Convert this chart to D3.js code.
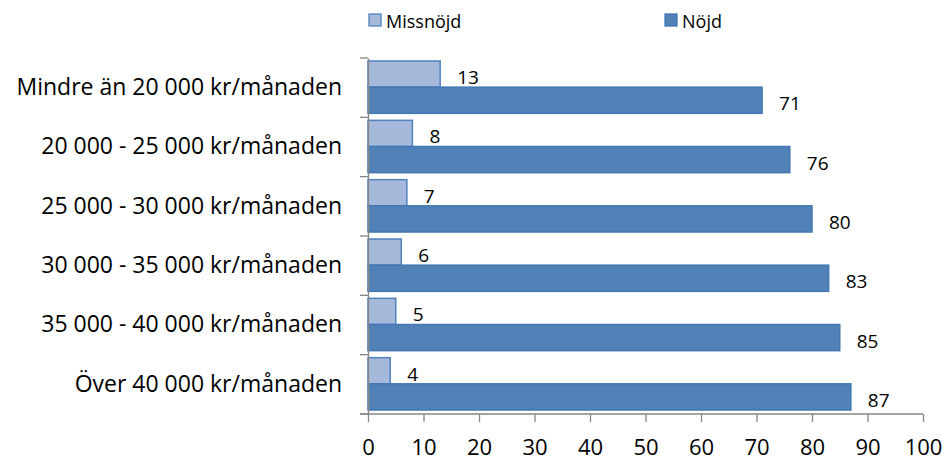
<!DOCTYPE html>
<head>
	<meta charset="utf-8">
	<script src="https://d3js.org/d3.v7.min.js"></script>
	<style>
		body { margin: 0; background: #fff; }
		text { font-family: "Open Sans", "Noto Sans", sans-serif; fill: #000; }
	</style>
</head>
<body>
	<script type="text/javascript">

		var w = 945;
		var h = 461;

		var categories = [
			"Mindre än 20 000 kr/månaden",
			"20 000 - 25 000 kr/månaden",
			"25 000 - 30 000 kr/månaden",
			"30 000 - 35 000 kr/månaden",
			"35 000 - 40 000 kr/månaden",
			"Över 40 000 kr/månaden"
		];
		var seriesNames = ["Missnöjd", "Nöjd"];
		var missnojd = [13, 8, 7, 6, 5, 4];
		var nojd = [71, 76, 80, 83, 85, 87];
		var xTicks = [0, 10, 20, 30, 40, 50, 60, 70, 80, 90, 100];

		var fills = ["#a7b9db", "#5082b8"];
		var strokes = ["#4f81bd", "#4277b3"];

		var svg = d3.select("body")
				.append("svg")
				.attr("width", w)
				.attr("height", h);

		var xScale = d3.scaleLinear()
					.domain([0, 100])
					.range([368, 923]);

		var yScale = d3.scaleBand()
					.domain(categories)
					.range([58, 414])
					.padding(0);

		var inner = d3.scaleBand()
					.domain(seriesNames)
					.range([3, yScale.bandwidth() - 4])
					.padding(0);

		var rows = categories.map(function(c, i) {
			return {cat: c, values: [missnojd[i], nojd[i]]};
		});

		var groups = svg.selectAll("g.row")
			.data(rows)
			.enter()
			.append("g")
			.attr("class", "row")
			.attr("transform", function(d) { return "translate(0," + yScale(d.cat) + ")"; });

		groups.selectAll("rect")
			.data(function(d) { return d.values.map(function(v, j) { return {v: v, s: seriesNames[j], j: j}; }); })
			.enter()
			.append("rect")
			.attr("x", xScale(0))
			.attr("y", function(d) { return inner(d.s); })
			.attr("width", function(d) { return xScale(d.v) - xScale(0); })
			.attr("height", inner.bandwidth())
			.attr("fill", function(d) { return fills[d.j]; })
			.attr("stroke", function(d) { return strokes[d.j]; })
			.attr("stroke-width", 1.5);

		groups.selectAll("text.val")
			.data(function(d) { return d.values.map(function(v, j) { return {v: v, s: seriesNames[j]}; }); })
			.enter()
			.append("text")
			.attr("class", "val")
			.attr("x", function(d) { return xScale(d.v) + 17; })
			.attr("y", function(d) { return inner(d.s) + inner.bandwidth() / 2 + 10; })
			.attr("font-size", 19)
			.text(function(d) { return d.v; });

		// y axis
		var yAxis = d3.axisLeft(yScale).tickSize(0).tickPadding(26);
		var gy = svg.append("g")
			.attr("transform", "translate(" + xScale(0) + ",0)")
			.call(yAxis);
		gy.select(".domain").attr("stroke", "#868686").attr("stroke-width", 1.3);
		gy.selectAll("text").attr("font-size", 23).attr("fill", "#000");

		// category separators
		svg.selectAll("line.sep")
			.data(d3.range(categories.length + 1))
			.enter()
			.append("line")
			.attr("class", "sep")
			.attr("x1", xScale(0) - 8)
			.attr("x2", xScale(0))
			.attr("y1", function(i) { return 58 + i * yScale.step(); })
			.attr("y2", function(i) { return 58 + i * yScale.step(); })
			.attr("stroke", "#868686")
			.attr("stroke-width", 1.3);

		// x axis
		var xAxis = d3.axisBottom(xScale).tickValues(xTicks).tickSize(8).tickPadding(17).tickSizeOuter(0);
		var gx = svg.append("g")
			.attr("transform", "translate(0,414)")
			.call(xAxis);
		gx.select(".domain").attr("stroke", "#868686").attr("stroke-width", 1.3)
			.attr("d", "M" + (xScale(0) - 8) + ",0H" + xScale(100));
		gx.selectAll(".tick line").attr("stroke", "#868686").attr("stroke-width", 1.3);
		gx.selectAll("text").attr("font-size", 22).attr("fill", "#000");

		// legend
		var legX = [369, 665];
		var leg = svg.selectAll("g.leg")
			.data(seriesNames)
			.enter()
			.append("g")
			.attr("class", "leg")
			.attr("transform", function(d, i) { return "translate(" + legX[i] + ",14)"; });
		leg.append("rect")
			.attr("width", 12)
			.attr("height", 12)
			.attr("fill", function(d, i) { return fills[i]; })
			.attr("stroke", function(d, i) { return strokes[i]; })
			.attr("stroke-width", 1.3);
		leg.append("text")
			.attr("x", 17)
			.attr("y", 14)
			.attr("font-size", 18)
			.text(function(d) { return d; });

	</script>
</body>
